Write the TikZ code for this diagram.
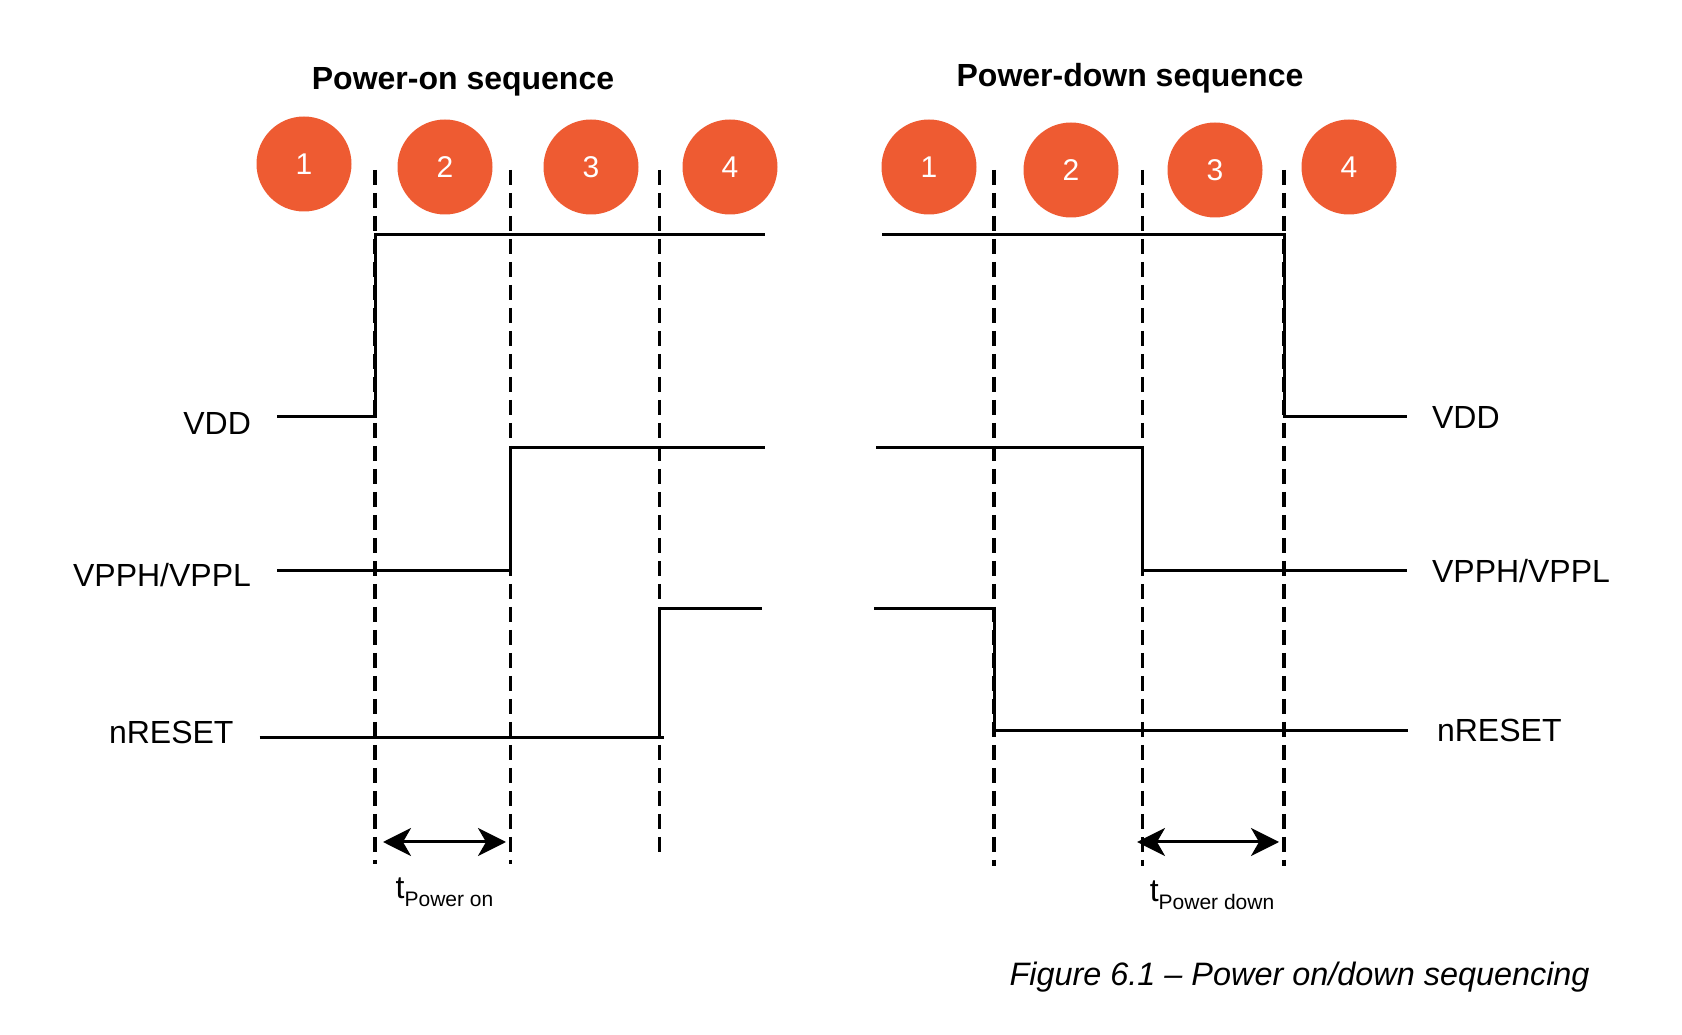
\documentclass[tikz,border=0pt]{standalone}
\usepackage{fontspec}
\setmainfont{Liberation Sans}
\usepackage{xcolor}
\usetikzlibrary{arrows.meta,positioning}

\definecolor{stageorange}{RGB}{238,91,50}
\tikzset{
  stage/.style={circle,fill=stageorange,text=white,minimum size=47.5pt,inner sep=0pt,
    font=\fontsize{15}{18}\selectfont},
  wave/.style={line width=1.5pt},
  phase/.style={line width=1.6pt,dash pattern=on 7.5pt off 4pt},
}

\begin{document}
\begin{tikzpicture}[x=0.5pt,y=0.5pt,>={Stealth[length=14pt,width=14pt,inset=4pt]},
    every node/.style={font=\fontsize{16}{19}\selectfont}]
  \useasboundingbox (0,0) rectangle (1682,1034);

  % titles
  \node[anchor=base,font=\bfseries\fontsize{16}{19}\selectfont] (onTitle) at (463,944) {Power-on sequence};
  \node[anchor=base,font=\bfseries\fontsize{16}{19}\selectfont] (dnTitle) at (1130,947) {Power-down sequence};

  % numbered stages
  \node[stage] (on1) at (304,870) {1};
  \node[stage] (on2) at (445,867) {2};
  \node[stage] (on3) at (591,867) {3};
  \node[stage] (on4) at (730,867) {4};
  \node[stage] (dn1) at (929,867) {1};
  \node[stage] (dn2) at (1071,864) {2};
  \node[stage] (dn3) at (1215,864) {3};
  \node[stage] (dn4) at (1349,867) {4};

  % phase boundaries
  \foreach \x/\yb in {375/170,510.5/170,659.5/176,994/168,1142.5/168,1284/168}
    \draw[phase] (\x,864) -- (\x,\yb);

  % power-on waveforms
  \coordinate (onVdd) at (277,617);
  \coordinate (onVpp) at (277,463);
  \coordinate (onRst) at (259.6,296);
  \draw[wave] (onVdd) -- (375,617) |- (765,799);
  \draw[wave] (onVpp) -- (510.5,463) |- (765,586);
  \draw[wave] (onRst) -- (664,296);
  \draw[wave] (659.5,296) |- (761.6,425);
  \node[left=9.5pt of onVdd,yshift=-3pt] (onVddLbl) {VDD};
  \node[left=9.5pt of onVpp,yshift=-2pt] (onVppLbl) {VPPH/VPPL};
  \node[left=9.5pt of onRst,yshift=3pt] (onRstLbl) {nRESET};

  % power-down waveforms
  \coordinate (dnVdd) at (1407,617);
  \coordinate (dnVpp) at (1407,463);
  \coordinate (dnRst) at (1408,303.5);
  \draw[wave] (882,799) -- (1284,799) |- (dnVdd);
  \draw[wave] (876,586) -- (1142.5,586) |- (dnVpp);
  \draw[wave] (874,425) -- (994,425) |- (dnRst);
  \node[right=9pt of dnVdd] (dnVddLbl) {VDD};
  \node[right=9pt of dnVpp] (dnVppLbl) {VPPH/VPPL};
  \node[right=11pt of dnRst] (dnRstLbl) {nRESET};

  % timing
  \coordinate (onS) at (383,192);
  \coordinate (onE) at (506,192);
  \coordinate (dnS) at (1137,192);
  \coordinate (dnE) at (1279,192);
  \draw[<->,line width=1.5pt] (onS) -- (onE) node[midway,below=14pt] (onT)
    {t\raisebox{-4pt}{\fontsize{10.5}{12}\selectfont Power on}};
  \draw[<->,line width=1.5pt] (dnS) -- (dnE) node[midway,below=15.5pt,xshift=2pt] (dnT)
    {t\raisebox{-4pt}{\fontsize{10.5}{12}\selectfont Power down}};

  \node[anchor=base east,inner sep=0pt,font=\itshape\fontsize{16.2}{19}\selectfont] (caption)
    at (1590,48.5) {Figure 6.1 \textendash{} Power on/down sequencing};
\end{tikzpicture}
\end{document}
